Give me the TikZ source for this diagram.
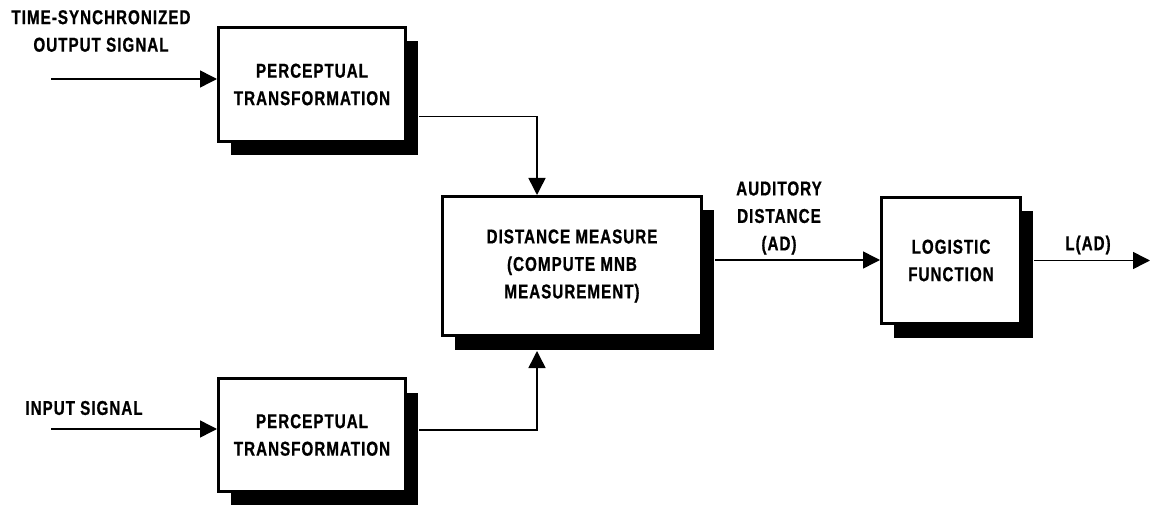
\documentclass[tikz,border=0pt]{standalone}
\usepackage{fontspec}
\setmainfont{Liberation Sans}[FakeStretch=0.76,LetterSpace=5,BoldFeatures={FakeBold=0.8}]
\usetikzlibrary{arrows.meta,shadows,calc}
\begin{document}
\begin{tikzpicture}[x=1pt,y=1pt,
  txt/.style={font=\fontsize{20pt}{27.5pt}\selectfont\bfseries, align=center, inner sep=0pt},
  blk/.style={txt, draw, line width=3pt, fill=white,
    general shadow={fill=black, shadow xshift=12pt, shadow yshift=-14pt}},
  arr/.style={line width=1.5pt, -{Triangle[length=17pt,width=17pt]}}]
\useasboundingbox (0,0) rectangle (1162,-505);

\node[blk, minimum width=187pt, minimum height=114pt] (b1) at (312,-84.5) {PERCEPTUAL\\TRANSFORMATION};
\node[blk, minimum width=187pt, minimum height=113pt] (b3) at (312,-435) {PERCEPTUAL\\TRANSFORMATION};
\node[blk, minimum width=259pt, minimum height=139pt] (b2) at (572,-266) {DISTANCE MEASURE\\(COMPUTE MNB\\MEASUREMENT)};
\node[blk, minimum width=139pt, minimum height=126pt] (b4) at (951,-260.5) {LOGISTIC\\FUNCTION};

\node[txt] (l1) at (101,-31) {TIME-SYNCHRONIZED\\OUTPUT SIGNAL};
\node[txt] (l3) at (84,-408) {INPUT SIGNAL};
\node[txt] (l2) at (779,-218) {AUDITORY\\DISTANCE\\(AD)};
\node[txt] (l4) at (1088,-245) {L(AD)};

\coordinate (s1) at (51,-79);
\coordinate (s3) at (51,-429);
\coordinate (o1) at ([xshift=12pt,yshift=-32pt]b1.east);
\coordinate (o3) at ([xshift=12pt,yshift=5pt]b3.east);
\coordinate (o2) at ([xshift=12pt,yshift=6pt]b2.east);
\coordinate (o4) at ([xshift=12pt]b4.east);
\coordinate (e4) at (1150,-260.5);

\draw[arr] (s1) -- (s1 -| b1.west);
\draw[arr] (s3) -- (s3 -| b3.west);
\draw[arr] (o1) -| ([xshift=-35pt]b2.north);
\draw[arr] (o3) -| ([xshift=-35pt,yshift=-14pt]b2.south);
\draw[arr] (o2) -- (o2 -| b4.west);
\draw[arr] (o4) -- (e4);
\end{tikzpicture}
\end{document}
